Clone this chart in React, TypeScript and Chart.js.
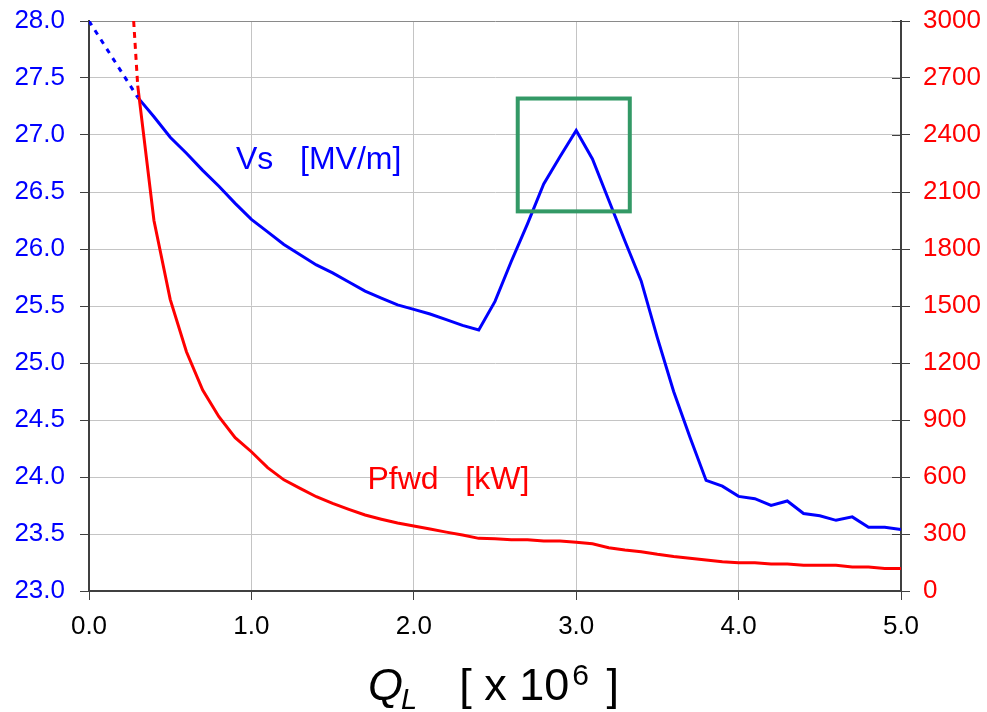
import React, { useEffect, useRef } from "react";
import { Chart, registerables } from "chart.js";

Chart.register(...registerables);

const qValues = [
  0.3, 0.4, 0.5, 0.6, 0.7, 0.8, 0.9, 1.0, 1.1, 1.2, 1.3, 1.4, 1.5, 1.6, 1.7, 1.8,
  1.9, 2.0, 2.1, 2.2, 2.3, 2.4, 2.5, 2.6, 2.7, 2.8, 2.9, 3.0, 3.1, 3.2, 3.3, 3.4,
  3.5, 3.6, 3.7, 3.8, 3.9, 4.0, 4.1, 4.2, 4.3, 4.4, 4.5, 4.6, 4.7, 4.8, 4.9, 5.0,
];

const vsValues = [
  27.33, 27.16, 26.98, 26.84, 26.69, 26.55, 26.4, 26.26, 26.15, 26.04, 25.95, 25.86,
  25.79, 25.71, 25.63, 25.57, 25.51, 25.47, 25.43, 25.38, 25.33, 25.29, 25.54, 25.89,
  26.22, 26.57, 26.81, 27.04, 26.79, 26.43, 26.07, 25.72, 25.22, 24.75, 24.35, 23.97,
  23.92, 23.83, 23.81, 23.75, 23.79, 23.68, 23.66, 23.62, 23.65, 23.56, 23.56, 23.54,
];

const pfwdValues = [
  2660, 1950, 1535, 1259, 1058, 917, 807, 733, 649, 585, 540, 496, 461, 430, 400, 378,
  358, 342, 326, 310, 295, 277, 275, 270, 270, 263, 263, 256, 249, 228, 216, 207,
  193, 181, 172, 163, 154, 149, 149, 142, 142, 135, 135, 135, 126, 126, 119, 119,
];

// dashed extrapolations toward Q_L -> 0
const vsExtrapQ = [0.0, 0.3];
const vsExtrapValues = [28.0, 27.33];
const pfwdExtrapQ = [0.275, 0.3];
const pfwdExtrapValues = [3000, 2660];

const vsTicks = [23.0, 28.0, 0.5]; // min, max, step
const pfwdTicks = [0, 3000, 300];
const qTicks = [0, 5, 1];

// highlighted region (Q_L range, Vs range)
const boxQ = [2.64, 3.33];
const boxVs = [26.33, 27.32];

const FONT = '"Liberation Sans", Arial, sans-serif';
const BLUE = "#0000ff";
const RED = "#ff0000";

const annotPlugin = {
  id: "annot",
  afterDatasetsDraw(chart: any) {
    const { ctx, chartArea, scales } = chart;
    const x = scales.x;
    const y = scales.y;
    const y1 = scales.y1;
    ctx.save();
    // green box
    ctx.strokeStyle = "#339966";
    ctx.lineWidth = 4;
    const bx0 = x.getPixelForValue(boxQ[0]);
    const bx1 = x.getPixelForValue(boxQ[1]);
    const by0 = y.getPixelForValue(boxVs[1]);
    const by1 = y.getPixelForValue(boxVs[0]);
    ctx.strokeRect(bx0, by0, bx1 - bx0, by1 - by0);

    // series labels
    ctx.font = `32px ${FONT}`;
    ctx.textAlign = "left";
    ctx.textBaseline = "alphabetic";
    ctx.fillStyle = BLUE;
    ctx.fillText("Vs   [MV/m]", x.getPixelForValue(0.905), y.getPixelForValue(26.7));
    ctx.fillStyle = RED;
    ctx.fillText("Pfwd   [kW]", x.getPixelForValue(1.715), y1.getPixelForValue(537));

    // inner ticks on right axis
    ctx.strokeStyle = "#404040";
    ctx.lineWidth = 1;
    for (const t of y1.ticks) {
      const py = Math.round(y1.getPixelForValue(t.value)) + 0.5;
      ctx.beginPath();
      ctx.moveTo(chartArea.right - 9, py);
      ctx.lineTo(chartArea.right, py);
      ctx.stroke();
    }

    // axis title Q_L [ x 10^6 ]
    ctx.fillStyle = "#000000";
    const base = 700;
    let cx = (chartArea.left + chartArea.right) / 2 - 127;
    ctx.font = `italic 45px ${FONT}`;
    ctx.fillText("Q", cx, base);
    cx += ctx.measureText("Q").width - 2;
    ctx.font = `italic 29px ${FONT}`;
    ctx.fillText("L", cx, base + 9);
    cx += ctx.measureText("L").width + 42;
    ctx.font = `45px ${FONT}`;
    const mid = "[ x 10";
    ctx.fillText(mid, cx, base);
    cx += ctx.measureText(mid).width;
    ctx.font = `30px ${FONT}`;
    ctx.fillText("6", cx + 3, base - 15);
    cx += ctx.measureText("6").width + 8;
    ctx.font = `45px ${FONT}`;
    ctx.fillText(" ]", cx, base);
    ctx.restore();
  },
};

export default function App() {
  const ref = useRef<HTMLCanvasElement | null>(null);

  useEffect(() => {
    if (!ref.current) return;
    const vsData = qValues.map((q, i) => ({ x: q, y: vsValues[i] }));
    const pfwdData = qValues.map((q, i) => ({ x: q, y: pfwdValues[i] }));
    const vsExtrap = vsExtrapQ.map((q, i) => ({ x: q, y: vsExtrapValues[i] }));
    const pfwdExtrap = pfwdExtrapQ.map((q, i) => ({ x: q, y: pfwdExtrapValues[i] }));

    const fitV = (w: number) => (s: any) => {
      s.width = w;
      s.paddingTop = 0;
      s.paddingBottom = 0;
    };

    const chart = new Chart(ref.current, {
      type: "line",
      data: {
        datasets: [
          {
            label: "Vs extrapolation",
            data: vsExtrap,
            yAxisID: "y",
            borderColor: BLUE,
            borderWidth: 3,
            borderDash: [5, 6],
            pointRadius: 0,
            tension: 0,
          },
          {
            label: "Pfwd extrapolation",
            data: pfwdExtrap,
            yAxisID: "y1",
            borderColor: RED,
            borderWidth: 3,
            borderDash: [6, 5],
            pointRadius: 0,
            tension: 0,
          },
          {
            label: "Pfwd [kW]",
            data: pfwdData,
            yAxisID: "y1",
            borderColor: RED,
            borderWidth: 3,
            pointRadius: 0,
            tension: 0,
          },
          {
            label: "Vs [MV/m]",
            data: vsData,
            yAxisID: "y",
            borderColor: BLUE,
            borderWidth: 3,
            pointRadius: 0,
            tension: 0,
          },
        ],
      },
      options: {
        animation: false,
        responsive: true,
        maintainAspectRatio: false,
        devicePixelRatio: 1,
        layout: { padding: { top: 21, left: 0, right: 0, bottom: 0 } },
        plugins: {
          legend: { display: false },
          tooltip: { enabled: false },
        },
        scales: {
          x: {
            type: "linear",
            min: qTicks[0],
            max: qTicks[1],
            afterFit: (s: any) => {
              s.height = 121;
              s.paddingLeft = 0;
              s.paddingRight = 0;
            },
            ticks: {
              stepSize: qTicks[2],
              color: "#000000",
              font: { family: FONT, size: 26 },
              padding: 11,
              maxRotation: 0,
              callback: (v: any) => Number(v).toFixed(1),
            },
            grid: { color: "#c4c4c4", tickColor: "#404040", tickLength: 9, lineWidth: 1 },
            border: { display: true, color: "#404040", width: 2 },
          },
          y: {
            type: "linear",
            position: "left",
            min: vsTicks[0],
            max: vsTicks[1],
            afterFit: fitV(89),
            ticks: {
              stepSize: vsTicks[2],
              color: BLUE,
              font: { family: FONT, size: 26 },
              padding: 15,
              callback: (v: any) => Number(v).toFixed(1),
            },
            grid: {
              color: (c: any) => (c.tick && c.tick.value === vsTicks[1] ? "#8a8a8a" : "#c4c4c4"),
              tickColor: "#404040",
              tickLength: 9,
              lineWidth: 1,
            },
            border: { display: true, color: "#404040", width: 2 },
          },
          y1: {
            type: "linear",
            position: "right",
            min: pfwdTicks[0],
            max: pfwdTicks[1],
            afterFit: fitV(86),
            ticks: {
              stepSize: pfwdTicks[2],
              color: RED,
              font: { family: FONT, size: 26 },
              padding: 13,
              callback: (v: any) => String(v),
            },
            grid: { drawOnChartArea: false, tickColor: "#404040", tickLength: 9 },
            border: { display: true, color: "#404040", width: 2 },
          },
        },
      },
      plugins: [annotPlugin],
    });
    return () => chart.destroy();
  }, []);

  return (
    <div style={{ position: "fixed", left: 0, top: 0, width: 987, height: 712, background: "#ffffff" }}>
      <canvas ref={ref} />
    </div>
  );
}
